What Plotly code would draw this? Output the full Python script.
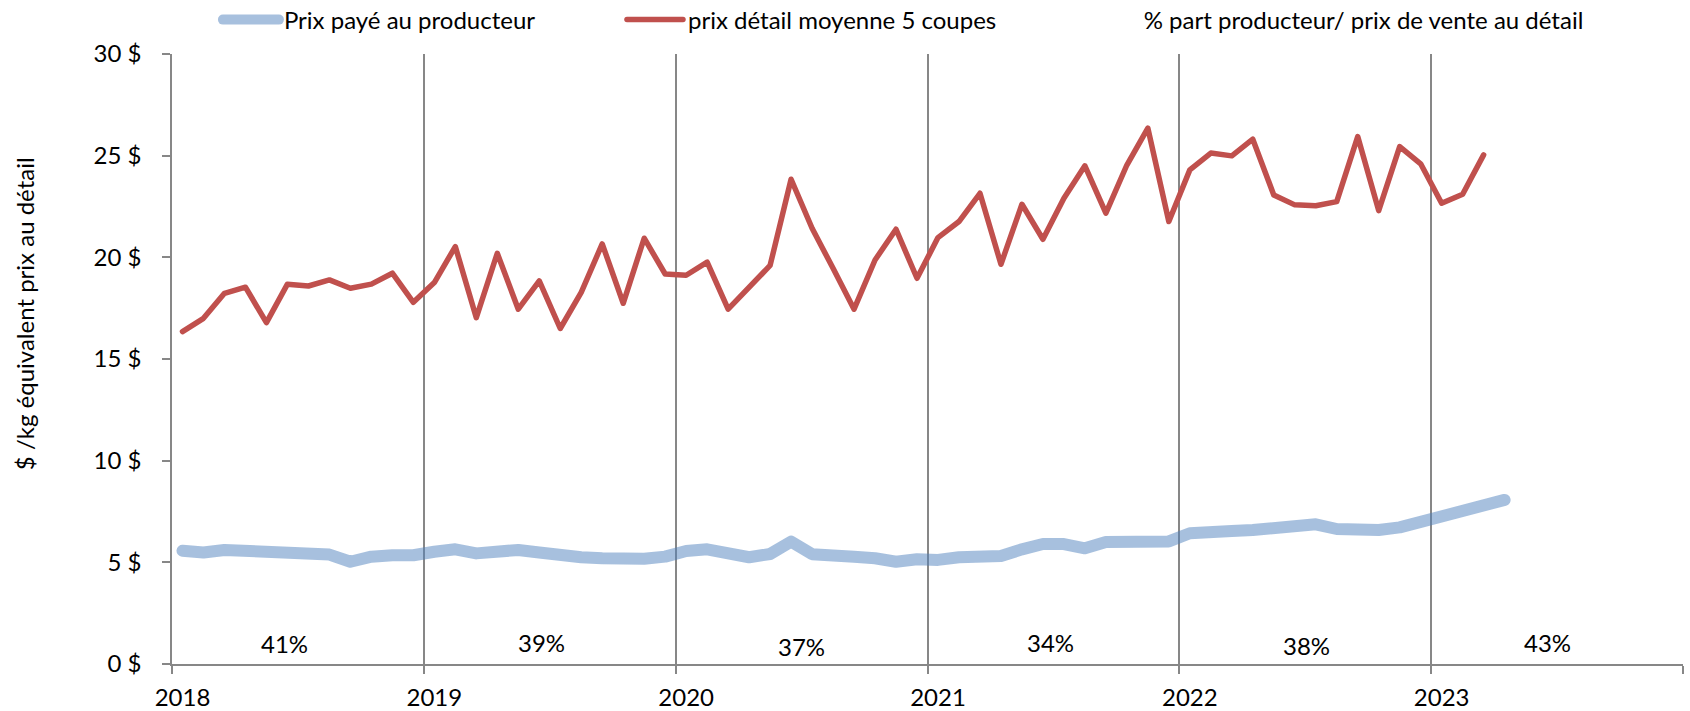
import plotly.graph_objects as go

# Monthly series, January 2018 onward ($ per kg, retail equivalent)
producer_price = [
    5.57, 5.48, 5.61, 5.56, 5.54, 5.51, 5.51, 5.38, 5.03, 5.28, 5.35, 5.35,   # 2018
    5.52, 5.64, 5.44, 5.57, 5.61, 5.48, 5.31, 5.25, 5.20, 5.15, 5.18, 5.28,   # 2019
    5.56, 5.64, 5.51, 5.25, 5.41, 6.02, 5.40, 5.40, 5.28, 5.20, 5.03, 5.15,   # 2020
    5.12, 5.25, 5.35, 5.31, 5.64, 5.90, 5.90, 5.69, 6.00, 6.00, 5.94, 6.03,   # 2021
    6.43, 6.43, 6.54, 6.59, 6.67, 6.87, 6.87, 6.64, 6.62, 6.59, 6.72, 7.00,   # 2022
    7.25, 7.50, 7.87, 8.07,                                                   # 2023
]
retail_price = [
    16.35, 17.00, 18.23, 18.53, 16.79, 18.68, 18.59, 18.89, 18.48, 18.68, 19.22, 17.79,  # 2018
    18.76, 20.53, 17.03, 20.20, 17.45, 18.84, 16.50, 18.28, 20.66, 17.74, 20.94, 19.18,  # 2019
    19.12, 19.76, 17.45, 18.51, 19.60, 23.84, 21.43, 19.46, 17.45, 19.87, 21.38, 18.97,  # 2020
    20.97, 21.76, 23.15, 19.66, 22.61, 20.89, 22.91, 24.50, 22.17, 24.54, 26.35, 21.76,  # 2021
    24.30, 25.13, 24.99, 25.81, 23.07, 22.58, 22.54, 22.74, 25.94, 22.30, 25.45, 24.60,  # 2022
    22.66, 23.10, 25.04,                                                                 # 2023
]
years = [2018, 2019, 2020, 2021, 2022, 2023]
year_labels = ["2018", "2019", "2020", "2021", "2022", "2023"]

# Producer share of the retail price, one label per year
share_labels = ["41%", "39%", "37%", "34%", "38%", "43%"]
share_label_x = [2018.445, 2019.466, 2020.498, 2021.490, 2022.503, 2023.460]
share_label_y = [1.03, 1.08, 0.84, 1.08, 0.93, 1.08]

y_ticks = [0, 5, 10, 15, 20, 25, 30]

FONT = "Lato, Carlito, Calibri, sans-serif"
GRID = "#878787"


def month_positions(n):
    # each month sits in the middle of its 1/12 slot of the year
    return [2018 + (i + 0.5) / 12 for i in range(n)]


fig = go.Figure()

fig.add_trace(go.Scatter(
    x=month_positions(len(producer_price)), y=producer_price,
    mode="lines", name="Prix payé au producteur",
    line=dict(color="rgba(79,129,189,0.5)", width=12),
    legend="legend", hoverinfo="skip",
))
fig.add_trace(go.Scatter(
    x=month_positions(len(retail_price)), y=retail_price,
    mode="lines", name="prix détail moyenne 5 coupes",
    line=dict(color="#C0504D", width=5.5),
    legend="legend2", hoverinfo="skip",
))
fig.add_trace(go.Scatter(
    x=[None], y=[None], mode="lines",
    name="% part producteur/ prix de vente au détail",
    line=dict(color="rgba(0,0,0,0)", width=1),
    legend="legend3", hoverinfo="skip",
))

for txt, lx, ly in zip(share_labels, share_label_x, share_label_y):
    fig.add_annotation(x=lx, y=ly, xref="x", yref="y", text=txt,
                       showarrow=False, xanchor="center", yanchor="middle",
                       font=dict(family=FONT, size=24, color="#000000"))

fig.add_annotation(
    x=-0.098, y=0.575, xref="paper", yref="paper",
    text="$ /kg équivalent prix au détail", textangle=-90, showarrow=False,
    xanchor="center", yanchor="middle",
    font=dict(family=FONT, size=24, color="#000000"),
)

legend_common = dict(
    orientation="h", yanchor="middle", xanchor="left", y=1.0557,
    font=dict(family=FONT, size=24, color="#000000"),
    bgcolor="rgba(0,0,0,0)", borderwidth=0, itemwidth=56,
)

fig.update_layout(
    width=1690, height=711,
    margin=dict(l=172, r=7, t=54, b=47, autoexpand=False),
    paper_bgcolor="white", plot_bgcolor="white",
    showlegend=True,
    legend=dict(x=0.0304, **legend_common),
    legend2=dict(x=0.2978, **legend_common),
    legend3=dict(x=0.5994, **legend_common),
    xaxis=dict(
        range=[2018, 2024],
        tickmode="array",
        tickvals=[y + 0.5 / 12 for y in years],
        ticktext=year_labels,
        ticks="", showgrid=False, zeroline=False,
        showline=True, linecolor=GRID, linewidth=1.5,
        ticklabelstandoff=11,
        tickfont=dict(family=FONT, size=24, color="#000000"),
        minor=dict(
            tickmode="array", tickvals=years + [2024],
            ticks="outside", ticklen=8, tickwidth=1.5, tickcolor=GRID,
            showgrid=True, gridcolor=GRID, gridwidth=1.5,
        ),
    ),
    yaxis=dict(
        range=[0, 30],
        tickmode="array", tickvals=y_ticks,
        ticktext=[f"{v} $" for v in y_ticks],
        ticks="outside", ticklen=8, tickwidth=1.5, tickcolor=GRID,
        showgrid=False, zeroline=False,
        showline=True, linecolor=GRID, linewidth=1.5,
        ticklabelstandoff=16,
        tickfont=dict(family=FONT, size=24, color="#000000"),
    ),
)

round_lines = (
    "document.querySelectorAll('path.js-line').forEach(function(p){"
    "p.style.strokeLinejoin='round';p.style.strokeLinecap='round';});"
)
fig.write_html("out.html", post_script=round_lines)
